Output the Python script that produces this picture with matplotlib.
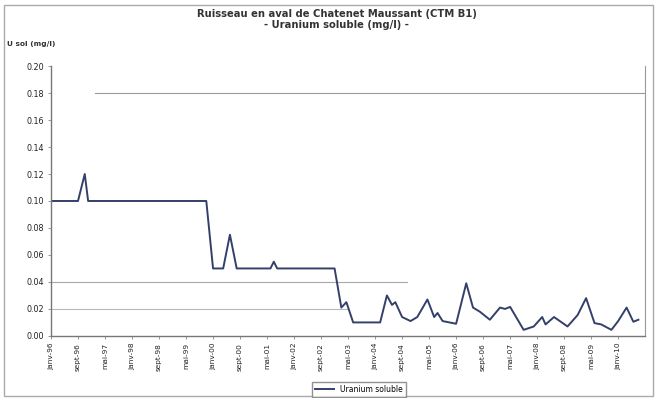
import matplotlib.pyplot as plt
import numpy as np
from matplotlib.patches import Rectangle

# months since janv-96
months = [0, 8, 10, 11, 46, 48, 51, 53, 55, 65, 66, 67, 84, 86, 87.5, 89.5,
          97.5, 99.5, 101, 102, 104, 106.5, 108.5, 111.5, 113.5, 114.5, 116, 120,
          123, 125, 127, 130, 133, 134.5, 136, 138, 140, 143, 145.5, 146.5,
          149, 151, 153, 156, 158.5, 161, 163, 166, 168, 170.5, 172.5, 174]
uranium = [0.10, 0.10, 0.12, 0.10, 0.10, 0.05, 0.05, 0.075, 0.05, 0.05, 0.055, 0.05,
           0.05, 0.021, 0.025, 0.01, 0.01, 0.030, 0.023, 0.025, 0.014, 0.011,
           0.014, 0.027, 0.014, 0.017, 0.011, 0.009, 0.039, 0.021, 0.018, 0.012,
           0.021, 0.020, 0.0215, 0.013, 0.0045, 0.007, 0.014, 0.0085, 0.014,
           0.0105, 0.007, 0.0155, 0.028, 0.0095, 0.0085, 0.0045, 0.011, 0.021,
           0.0105, 0.012]

tick_months = list(range(0, 169, 8))
tick_labels = ['janv-96', 'sept-96', 'mai-97', 'janv-98', 'sept-98', 'mai-99',
               'janv-00', 'sept-00', 'mai-01', 'janv-02', 'sept-02', 'mai-03',
               'janv-04', 'sept-04', 'mai-05', 'janv-06', 'sept-06', 'mai-07',
               'janv-08', 'sept-08', 'mai-09', 'janv-10']
y_ticks = np.arange(0, 0.201, 0.02)

plt.rcParams['font.family'] = 'DejaVu Sans'

fig = plt.figure(figsize=(6.58, 3.98), dpi=100)
ax = fig.add_axes([0.0775, 0.156, 0.903, 0.678])

# faint leftover gridlines visible on the scan
ax.axhline(0.18, xmin=0.074, xmax=1, color='#9a9a9a', lw=0.8)
ax.axhline(0.04, xmin=0, xmax=0.6, color='#a8a8a8', lw=0.8)
ax.axhline(0.02, xmin=0, xmax=0.5, color='#b8b8b8', lw=0.8)

ax.plot(months, uranium, color='#34406a', lw=1.4, label='Uranium soluble')

ax.set_xlim(0, 176)
ax.set_ylim(0, 0.20)
ax.set_xticks(tick_months)
ax.set_xticklabels(tick_labels, rotation=90, fontsize=5.3, color='#222222')
ax.set_yticks(y_ticks)
ax.set_yticklabels(['%.2f' % v for v in y_ticks], fontsize=5.8, color='#222222')
ax.tick_params(length=2, width=0.6, color='#888888', pad=3)

for s in ['left', 'bottom']:
    ax.spines[s].set_color('#777777')
    ax.spines[s].set_linewidth(1.0)
ax.spines['right'].set_color('#999999')
ax.spines['right'].set_linewidth(0.8)
ax.spines['top'].set_visible(False)

fig.text(0.512, 0.965, 'Ruisseau en aval de Chatenet Maussant (CTM B1)',
         ha='center', va='center', fontsize=7.2, fontweight='bold', color='#333333')
fig.text(0.512, 0.937, '- Uranium soluble (mg/l) -',
         ha='center', va='center', fontsize=7.2, fontweight='bold', color='#333333')
fig.text(0.01, 0.89, 'U sol (mg/l)', ha='left', va='center', fontsize=5.3,
         fontweight='bold', color='#333333')

leg = fig.legend(loc='center', bbox_to_anchor=(0.545, 0.022), fontsize=5.5,
                 frameon=True, fancybox=False, handlelength=2.5,
                 borderpad=0.4, edgecolor='#777777')

fig.patches.append(Rectangle((0.006, 0.004), 0.986, 0.983, transform=fig.transFigure,
                             fill=False, edgecolor='#aaaaaa', lw=1.0))

plt.savefig('out.png', dpi=100)
